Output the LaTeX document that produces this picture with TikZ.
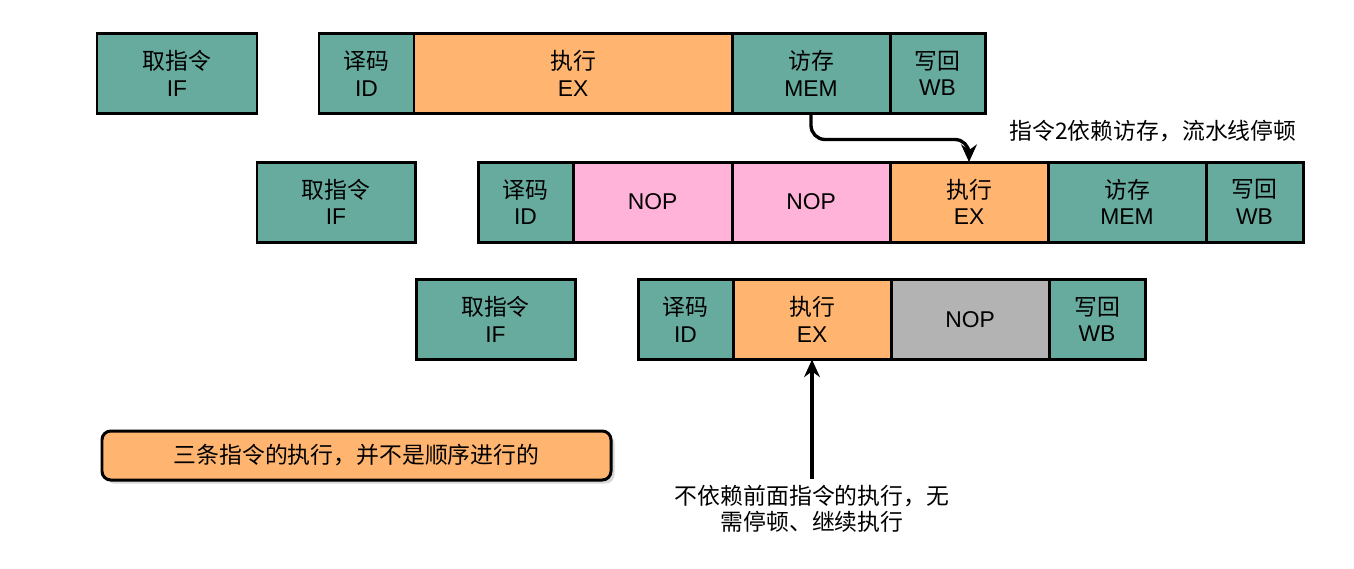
\documentclass[tikz,border=0pt]{standalone}
\usepackage{fontspec}
\setmainfont{Liberation Sans}
\newfontfamily\cjk{Noto Sans CJK SC}
\usetikzlibrary{arrows.meta, positioning, shadows}

\definecolor{stagegreen}{HTML}{67AB9F}
\definecolor{stageorange}{HTML}{FFB570}
\definecolor{stagepink}{HTML}{FFB3D9}
\definecolor{stagegray}{HTML}{B3B3B3}

\newcommand{\stagetext}[2]{{\cjk #1}\\#2}

\begin{document}
\begin{tikzpicture}[node distance=0pt,
          stagebox/.style={rectangle, draw=black, line width=1.7pt, fill=stagegreen, minimum height=1.6cm, inner sep=0pt, outer sep=0pt, align=center, font=\fontsize{13}{15}\selectfont},
          exbox/.style={stagebox, fill=stageorange},
          nopbox/.style={stagebox, fill=stagepink},
          idlebox/.style={stagebox, fill=stagegray},
          notebox/.style={rectangle, draw=black, line width=1.7pt, fill=stageorange, rounded corners=5pt, minimum width=10.18cm, minimum height=0.98cm, drop shadow={shadow xshift=2pt, shadow yshift=-2pt, fill=black!30}, font=\cjk\fontsize{13}{15}\selectfont},
          arrow/.style={-{Stealth[length=10pt, width=9pt]}, line width=1.9pt, rounded corners=8pt}]

        \useasboundingbox (0,0) rectangle (27.08,-11.36);

        % instruction 1
        \node [stagebox, minimum width=3.2cm] (if1) at (3.54,-1.47) {\stagetext{取指令}{IF}};
        \node [stagebox, minimum width=1.9cm, anchor=west] (id1) at (6.38,-1.47) {\stagetext{译码}{ID}};
        \node [exbox, minimum width=6.36cm, right=of id1] (ex1) {\stagetext{执行}{EX}};
        \node [stagebox, minimum width=3.16cm, right=of ex1] (mem1) {\stagetext{访存}{MEM}};
        \node [stagebox, minimum width=1.9cm, right=of mem1] (wb1) {\stagetext{写回}{WB}};

        % instruction 2
        \node [stagebox, minimum width=3.16cm] (if2) at (6.72,-4.04) {\stagetext{取指令}{IF}};
        \node [stagebox, minimum width=1.9cm, anchor=west] (id2) at (9.56,-4.04) {\stagetext{译码}{ID}};
        \node [nopbox, minimum width=3.18cm, right=of id2] (nop2a) {NOP};
        \node [nopbox, minimum width=3.16cm, right=of nop2a] (nop2b) {NOP};
        \node [exbox, minimum width=3.16cm, right=of nop2b] (ex2) {\stagetext{执行}{EX}};
        \node [stagebox, minimum width=3.16cm, right=of ex2] (mem2) {\stagetext{访存}{MEM}};
        \node [stagebox, minimum width=1.94cm, right=of mem2] (wb2) {\stagetext{写回}{WB}};

        % instruction 3
        \node [stagebox, minimum width=3.18cm] (if3) at (9.91,-6.39) {\stagetext{取指令}{IF}};
        \node [stagebox, minimum width=1.9cm, anchor=west] (id3) at (12.76,-6.39) {\stagetext{译码}{ID}};
        \node [exbox, minimum width=3.16cm, right=of id3] (ex3) {\stagetext{执行}{EX}};
        \node [idlebox, minimum width=3.16cm, right=of ex3] (nop3) {NOP};
        \node [stagebox, minimum width=1.92cm, right=of nop3] (wb3) {\stagetext{写回}{WB}};

        % notes
        \node [notebox] (summary) at (7.13,-9.11) {三条指令的执行，并不是顺序进行的};
        \node [font=\cjk\fontsize{13}{15}\selectfont] (stallnote) at (23.06,-2.62) {指令2依赖访存，流水线停顿};
        \node [font=\cjk\fontsize{13}{15}\selectfont, align=center, below=2.38cm of ex3] (freenote) {不依赖前面指令的执行，无\\需停顿、继续执行};

        \draw [arrow] (mem1.south) -- ++(0,-0.52) -| (ex2.north);
        \draw [arrow] (freenote) -- (ex3);
      \end{tikzpicture}
\end{document}
